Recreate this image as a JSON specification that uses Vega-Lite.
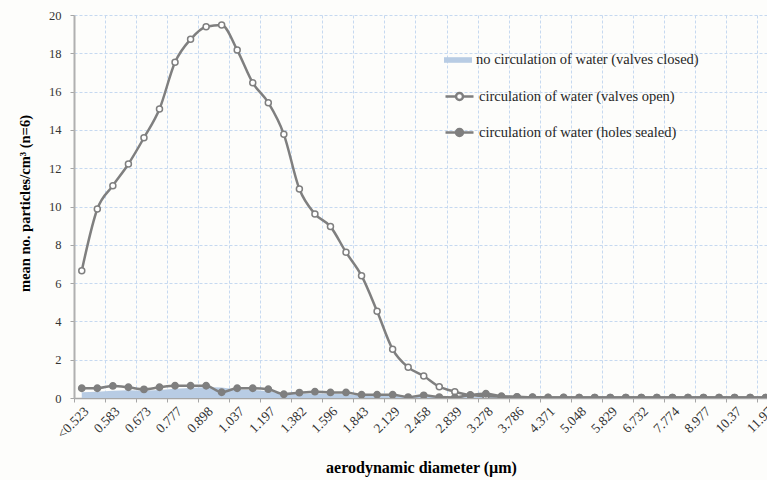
{
  "$schema": "https://vega.github.io/schema/vega-lite/v6.json",
  "width": 693,
  "height": 383,
  "autosize": {"type": "none"},
  "padding": {"left": 74, "top": 15, "right": 0, "bottom": 82},
  "background": "#fdfdfb",
  "config": {"view": {"stroke": null}, "font": "Liberation Serif"},
  "data": {
    "values": [
      {"d": "<0.523", "closed": 0.30, "open": 6.65, "sealed": 0.51},
      {"d": "0.542", "closed": 0.32, "open": 9.87, "sealed": 0.51},
      {"d": "0.583", "closed": 0.38, "open": 11.09, "sealed": 0.63},
      {"d": "0.626", "closed": 0.40, "open": 12.22, "sealed": 0.56},
      {"d": "0.673", "closed": 0.38, "open": 13.59, "sealed": 0.45},
      {"d": "0.723", "closed": 0.42, "open": 15.09, "sealed": 0.56},
      {"d": "0.777", "closed": 0.48, "open": 17.53, "sealed": 0.64},
      {"d": "0.835", "closed": 0.52, "open": 18.73, "sealed": 0.64},
      {"d": "0.898", "closed": 0.58, "open": 19.39, "sealed": 0.64},
      {"d": "0.965", "closed": 0.55, "open": 19.48, "sealed": 0.30},
      {"d": "1.037", "closed": 0.45, "open": 18.17, "sealed": 0.51},
      {"d": "1.114", "closed": 0.42, "open": 16.46, "sealed": 0.51},
      {"d": "1.197", "closed": 0.35, "open": 15.42, "sealed": 0.46},
      {"d": "1.286", "closed": 0.22, "open": 13.77, "sealed": 0.20},
      {"d": "1.382", "closed": 0.22, "open": 10.91, "sealed": 0.28},
      {"d": "1.486", "closed": 0.24, "open": 9.61, "sealed": 0.33},
      {"d": "1.596", "closed": 0.22, "open": 8.95, "sealed": 0.29},
      {"d": "1.715", "closed": 0.20, "open": 7.61, "sealed": 0.29},
      {"d": "1.843", "closed": 0.15, "open": 6.39, "sealed": 0.17},
      {"d": "1.981", "closed": 0.14, "open": 4.53, "sealed": 0.17},
      {"d": "2.129", "closed": 0.12, "open": 2.54, "sealed": 0.17},
      {"d": "2.288", "closed": 0.08, "open": 1.60, "sealed": 0.05},
      {"d": "2.458", "closed": 0.07, "open": 1.15, "sealed": 0.14},
      {"d": "2.642", "closed": 0.05, "open": 0.59, "sealed": 0.05},
      {"d": "2.839", "closed": 0.04, "open": 0.33, "sealed": 0.03},
      {"d": "3.051", "closed": 0.04, "open": 0.15, "sealed": 0.16},
      {"d": "3.278", "closed": 0.05, "open": 0.10, "sealed": 0.22},
      {"d": "3.523", "closed": 0.03, "open": 0.07, "sealed": 0.09},
      {"d": "3.786", "closed": 0.02, "open": 0.05, "sealed": 0.06},
      {"d": "4.068", "closed": 0.02, "open": 0.04, "sealed": 0.04},
      {"d": "4.371", "closed": 0.02, "open": 0.03, "sealed": 0.03},
      {"d": "4.698", "closed": 0.02, "open": 0.03, "sealed": 0.03},
      {"d": "5.048", "closed": 0.01, "open": 0.02, "sealed": 0.02},
      {"d": "5.425", "closed": 0.01, "open": 0.02, "sealed": 0.02},
      {"d": "5.829", "closed": 0.01, "open": 0.02, "sealed": 0.02},
      {"d": "6.264", "closed": 0.01, "open": 0.02, "sealed": 0.02},
      {"d": "6.732", "closed": 0.01, "open": 0.02, "sealed": 0.02},
      {"d": "7.234", "closed": 0.01, "open": 0.02, "sealed": 0.02},
      {"d": "7.774", "closed": 0.01, "open": 0.02, "sealed": 0.02},
      {"d": "8.354", "closed": 0.01, "open": 0.02, "sealed": 0.02},
      {"d": "8.977", "closed": 0.01, "open": 0.02, "sealed": 0.02},
      {"d": "9.647", "closed": 0.01, "open": 0.02, "sealed": 0.02},
      {"d": "10.37", "closed": 0.01, "open": 0.02, "sealed": 0.02},
      {"d": "11.14", "closed": 0.01, "open": 0.02, "sealed": 0.02},
      {"d": "11.97", "closed": 0.01, "open": 0.02, "sealed": 0.02},
      {"d": "12.86", "closed": 0.01, "open": 0.02, "sealed": 0.02}
    ]
  },
  "transform": [{"fold": ["closed", "open", "sealed"], "as": ["s", "v"]}],
  "encoding": {
    "y": {
      "field": "v", "type": "quantitative",
      "scale": {"domain": [0, 20], "nice": false},
      "axis": {
        "values": [0, 2, 4, 6, 8, 10, 12, 14, 16, 18, 20],
        "labelOverlap": false,
        "domain": true, "domainColor": "#b0b0b0", "domainWidth": 2,
        "ticks": true, "tickColor": "#a6a6a6", "tickSize": 4,
        "grid": true, "gridColor": "#c6d9f0", "gridDash": [3, 2], "gridWidth": 1,
        "labelFont": "Liberation Serif", "labelFontSize": 12.5, "labelColor": "#333333", "labelPadding": 9,
        "title": "mean no. particles/cm³ (n=6)",
        "titleFont": "Liberation Serif", "titleFontSize": 14.5, "titleFontWeight": "bold", "titleColor": "#000000",
        "titleX": -49, "titleY": 188, "titleBaseline": "middle", "titleAngle": -90
      }
    }
  },
  "layer": [
    {
      "transform": [{"filter": "datum.s === 'closed'"}],
      "mark": {"type": "area", "clip": true},
      "encoding": {
        "x": {
          "field": "d", "type": "nominal", "sort": null,
          "scale": {"type": "band", "paddingInner": 0, "paddingOuter": 0, "range": [0, 715]},
          "axis": {
            "orient": "bottom",
            "values": ["<0.523", "0.583", "0.673", "0.777", "0.898", "1.037", "1.197", "1.382", "1.596", "1.843", "2.129", "2.458", "2.839", "3.278", "3.786", "4.371", "5.048", "5.829", "6.732", "7.774", "8.977", "10.37", "11.97"],
            "labelAngle": -45, "labelAlign": "right", "labelBaseline": "top", "labelPadding": 6,
            "labelOverlap": false, "labelBound": false, "labelFlush": false,
            "ticks": false, "grid": false,
            "domain": true, "domainColor": "#a6a6a6", "domainWidth": 1.5,
            "labelFont": "Liberation Serif", "labelFontSize": 13.5, "labelColor": "#333333",
            "title": "aerodynamic diameter (µm)",
            "titleFont": "Liberation Serif", "titleFontSize": 16, "titleFontWeight": "bold", "titleColor": "#000000",
            "titleX": 347, "titleY": 69, "titleBaseline": "middle", "titleAlign": "center"
          }
        },
        "color": {
          "datum": "no circulation of water (valves closed)",
          "scale": {"range": ["#b8cce4"]},
          "legend": {
            "orient": "none", "legendX": 370, "legendY": 31, "title": null,
            "symbolType": "M-1,-0.2H1V0.2H-1Z", "symbolSize": 784, "symbolStrokeWidth": 0,
            "symbolOpacity": 1, "labelLimit": 0,
            "labelFont": "Liberation Serif", "labelFontSize": 14.5, "labelColor": "#262626", "labelOffset": 4
          }
        }
      }
    },
    {
      "transform": [{"filter": "datum.s === 'open'"}],
      "mark": {"type": "line", "interpolate": "monotone", "stroke": "#7f7f7f", "strokeWidth": 2.5, "clip": true},
      "encoding": {
        "x": {
          "field": "d", "type": "nominal", "sort": null,
          "axis": {
            "orient": "bottom",
            "values": ["<0.523", "0.583", "0.673", "0.777", "0.898", "1.037", "1.197", "1.382", "1.596", "1.843", "2.129", "2.458", "2.839", "3.278", "3.786", "4.371", "5.048", "5.829", "6.732", "7.774", "8.977", "10.37", "11.97"],
            "bandPosition": 0,
            "grid": true, "gridColor": "#c6d9f0", "gridDash": [3, 2], "gridWidth": 1,
            "ticks": true, "tickColor": "#a6a6a6", "tickSize": 4, "tickWidth": 1,
            "labels": false, "domain": false, "title": null
          }
        }
      }
    },
    {
      "transform": [{"filter": "datum.s === 'open'"}],
      "mark": {"type": "point", "filled": true, "size": 36, "stroke": "#7f7f7f", "strokeWidth": 1.5, "opacity": 1, "clip": true},
      "encoding": {
        "x": {"field": "d", "type": "nominal", "sort": null, "axis": null},
        "fill": {
          "datum": "circulation of water (valves open)",
          "scale": {"domain": ["circulation of water (valves open)", "circulation of water (holes sealed)"], "range": ["#ffffff", "#7f7f7f"]},
          "legend": {
            "orient": "none", "legendX": 370, "legendY": 66, "title": null,
            "symbolType": "M-1,0H-0.25M0.25,0H1M-0.25,0A0.25,0.25,0,1,1,0.25,0A0.25,0.25,0,1,1,-0.25,0",
            "symbolSize": 784, "symbolStrokeColor": "#7f7f7f", "symbolStrokeWidth": 2.5, "symbolOpacity": 1,
            "rowPadding": 12, "labelLimit": 0,
            "labelFont": "Liberation Serif", "labelFontSize": 14.5, "labelColor": "#262626", "labelOffset": 4
          }
        }
      }
    },
    {
      "transform": [{"filter": "datum.s === 'sealed'"}],
      "mark": {"type": "line", "interpolate": "monotone", "stroke": "#7f7f7f", "strokeWidth": 2.5, "clip": true},
      "encoding": {
        "x": {"field": "d", "type": "nominal", "sort": null, "axis": null}
      }
    },
    {
      "transform": [{"filter": "datum.s === 'sealed'"}],
      "mark": {"type": "point", "filled": true, "size": 40, "stroke": "#7f7f7f", "strokeWidth": 1.5, "opacity": 1, "clip": true},
      "encoding": {
        "x": {"field": "d", "type": "nominal", "sort": null, "axis": null},
        "fill": {
          "datum": "circulation of water (holes sealed)",
          "scale": {"domain": ["circulation of water (valves open)", "circulation of water (holes sealed)"], "range": ["#ffffff", "#7f7f7f"]}
        }
      }
    }
  ],
  "resolve": {"axis": {"x": "independent"}}
}
